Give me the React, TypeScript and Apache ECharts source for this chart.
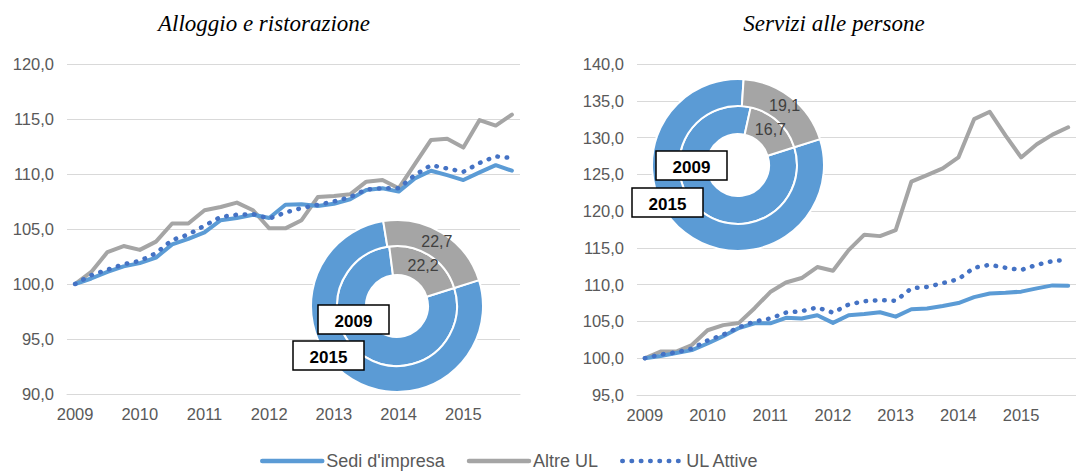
import React, { useEffect, useRef } from "react";
import * as echarts from "echarts";

const years = ["2009", "2010", "2011", "2012", "2013", "2014", "2015"];
const quarters = years.flatMap((y) => ["I", "II", "III", "IV"].map((q) => `${q} ${y}`));

const leftSedi = [100.0, 100.5, 101.1, 101.6, 101.9, 102.4, 103.6, 104.1, 104.7, 105.8, 106.0, 106.3, 106.0, 107.2, 107.25, 107.1, 107.3, 107.7, 108.55, 108.7, 108.4, 109.6, 110.3, 109.9, 109.45, 110.15, 110.8, 110.3];
const leftAltre = [100.0, 101.1, 102.9, 103.45, 103.1, 103.85, 105.5, 105.5, 106.7, 107.0, 107.4, 106.7, 105.06, 105.06, 105.8, 107.9, 108.0, 108.15, 109.3, 109.45, 108.7, 110.9, 113.1, 113.2, 112.4, 114.9, 114.4, 115.4];
const leftUL = [100.0, 100.8, 101.3, 101.8, 102.1, 102.8, 104.0, 104.5, 105.3, 106.1, 106.3, 106.35, 105.95, 106.5, 106.9, 107.2, 107.5, 107.9, 108.6, 108.7, 108.7, 109.9, 110.8, 110.5, 110.2, 111.0, 111.6, 111.45];

const rightSedi = [100.0, 100.3, 100.7, 101.1, 102.0, 103.0, 104.1, 104.75, 104.75, 105.5, 105.4, 105.85, 104.8, 105.85, 106.0, 106.25, 105.65, 106.65, 106.75, 107.1, 107.5, 108.3, 108.8, 108.9, 109.05, 109.5, 109.9, 109.85];
const rightAltre = [100.0, 100.9, 100.9, 101.8, 103.8, 104.5, 104.8, 106.8, 109.0, 110.3, 110.9, 112.4, 111.9, 114.7, 116.8, 116.6, 117.4, 124.0, 124.9, 125.8, 127.3, 132.5, 133.5, 130.3, 127.3, 129.1, 130.4, 131.4];
const rightUL = [100.0, 100.5, 100.8, 101.3, 102.4, 103.2, 104.2, 105.0, 105.4, 106.2, 106.4, 106.9, 106.2, 107.3, 107.75, 107.9, 107.8, 109.5, 109.7, 110.2, 110.75, 112.3, 112.7, 112.3, 112.0, 112.7, 113.2, 113.4];

// Doughnut shares (%): [Sedi d'impresa, Altre UL]
const left2015 = [77.3, 22.7];
const left2009 = [77.8, 22.2];
const right2015 = [80.9, 19.1];
const right2009 = [83.3, 16.7];

const titles = ["Alloggio e ristorazione", "Servizi alle persone"];
const seriesNames = ["Sedi d'impresa", "Altre UL", "UL Attive"];

const BLUE = "#5B9BD5";
const GRAY = "#A5A5A5";
const DOT = "#4472C4";
const LABEL = "#595959";
const SANS = '"Liberation Sans", Arial, sans-serif';

const fmt = (v: number) => v.toFixed(1).replace(".", ",");

function lineSeries(name: string, data: number[], idx: number) {
  const base: any = {
    name,
    type: "line",
    data,
    xAxisIndex: idx,
    yAxisIndex: idx,
    symbol: "none",
    z: 3,
  };
  if (name === "UL Attive") {
    base.lineStyle = { color: DOT, width: 4.5, type: [0.5, 8.8], cap: "round" };
    base.itemStyle = { color: DOT };
    base.z = 4;
  } else {
    const c = name === "Altre UL" ? GRAY : BLUE;
    base.lineStyle = { color: c, width: 4, cap: "round", join: "round" };
    base.itemStyle = { color: c };
  }
  return base;
}

function donut(center: number[], radius: number[], vals: number[]) {
  return {
    type: "pie",
    center,
    radius,
    startAngle: 17.5,
    clockwise: true,
    silent: true,
    z: 6,
    itemStyle: { borderColor: "#fff", borderWidth: 2 },
    labelLine: { show: false },
    data: [
      { value: vals[0], itemStyle: { color: BLUE }, label: { show: false } },
      {
        value: vals[1],
        itemStyle: { color: GRAY },
        label: {
          show: true,
          position: "inside",
          formatter: (p: any) => fmt(p.value),
          color: "#404040",
          fontSize: 16,
          fontFamily: SANS,
        },
      },
    ],
  };
}

function hole(center: number[]) {
  return {
    type: "pie",
    center,
    radius: [0, 31],
    silent: true,
    z: 5,
    label: { show: false },
    labelLine: { show: false },
    itemStyle: { color: "#fff" },
    data: [{ value: 1 }],
  };
}

function yearBox(x: number, y: number, text: string) {
  return {
    type: "group",
    x,
    y,
    z: 100,
    children: [
      { type: "rect", shape: { x: 0, y: 0, width: 71, height: 29 }, style: { fill: "#fff", stroke: "#000", lineWidth: 1.5 }, z: 100 },
      {
        type: "text",
        x: 35.5,
        y: 16.5,
        z: 101,
        style: {
          text,
          font: `bold 17px ${SANS}`,
          fill: "#000",
          textAlign: "center",
          textVerticalAlign: "middle",
          align: "center",
          verticalAlign: "middle",
        },
      },
    ],
  };
}

function titleText(x: number, text: string) {
  return {
    type: "text",
    x,
    y: 23,
    style: {
      text,
      font: 'italic 23px "Liberation Serif", "Times New Roman", serif',
      fill: "#000",
      textAlign: "center",
      textVerticalAlign: "middle",
      align: "center",
      verticalAlign: "middle",
    },
  };
}

export default function App() {
  const ref = useRef<HTMLDivElement>(null);
  useEffect(() => {
    if (!ref.current) return;
    const chart = echarts.init(ref.current, undefined, { renderer: "svg" });
    const xAxis = (gi: number) => ({
      type: "category",
      gridIndex: gi,
      data: quarters,
      boundaryGap: true,
      axisLine: { show: true, lineStyle: { color: "#D9D9D9", width: 1 } },
      axisTick: { show: false },
      axisLabel: {
        interval: 3,
        formatter: (v: string) => v.split(" ")[1],
        color: LABEL,
        fontSize: 16.5,
        fontFamily: SANS,
        margin: 11,
      },
      splitLine: { show: false },
    });
    const yAxis = (gi: number, min: number, max: number) => ({
      type: "value",
      gridIndex: gi,
      min,
      max,
      interval: 5,
      axisLine: { show: false },
      axisTick: { show: false },
      axisLabel: { formatter: fmt, color: LABEL, fontSize: 16.5, fontFamily: SANS, margin: 13 },
      splitLine: { lineStyle: { color: "#D9D9D9", width: 1 } },
    });
    const option: any = {
      animation: false,
      backgroundColor: "#fff",
      grid: [
        { left: 67, top: 64, width: 453, height: 330 },
        { left: 637, top: 64, width: 453, height: 331 },
      ],
      xAxis: [xAxis(0), xAxis(1)],
      yAxis: [yAxis(0, 90, 120), yAxis(1, 95, 140)],
      legend: {
        data: seriesNames,
        left: 260,
        top: 452,
        padding: 0,
        itemWidth: 60,
        itemHeight: 10,
        itemGap: 22,
        itemStyle: { opacity: 0 },
        lineStyle: { width: 4.5 },
        textStyle: { color: LABEL, fontSize: 18, fontFamily: SANS, padding: [0, 0, 0, -1] },
        selectedMode: false,
      },
      series: [
        lineSeries(seriesNames[1], leftAltre, 0),
        lineSeries(seriesNames[0], leftSedi, 0),
        lineSeries(seriesNames[2], leftUL, 0),
        lineSeries(seriesNames[1], rightAltre, 1),
        lineSeries(seriesNames[0], rightSedi, 1),
        lineSeries(seriesNames[2], rightUL, 1),
        hole([397, 306]),
        donut([397, 306], [31, 60], left2009),
        donut([397, 306], [60, 86], left2015),
        hole([738, 165]),
        donut([738, 165], [31, 59], right2009),
        donut([738, 165], [59, 86], right2015),
      ],
      graphic: [
        titleText(264, titles[0]),
        titleText(834, titles[1]),
        yearBox(318, 305, "2009"),
        yearBox(293, 341, "2015"),
        yearBox(656, 151, "2009"),
        yearBox(632, 188, "2015"),
      ],
    };
    chart.setOption(option);
    return () => chart.dispose();
  }, []);
  return <div ref={ref} style={{ position: "absolute", left: 0, top: 0, width: 1076, height: 471 }} />;
}
